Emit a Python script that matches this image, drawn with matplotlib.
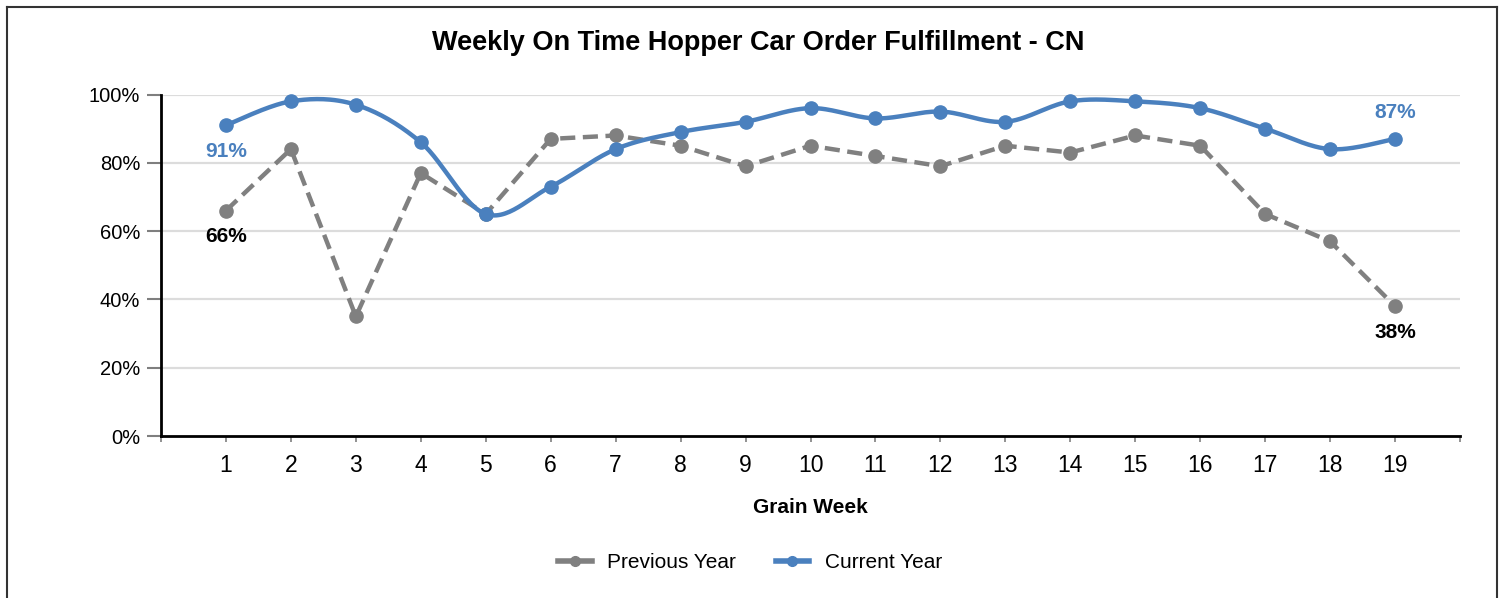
import numpy as np
import matplotlib
matplotlib.use("Agg")
import matplotlib.pyplot as plt
from matplotlib.lines import Line2D

weeks = list(range(1, 20))
previous_year = [66, 84, 35, 77, 65, 87, 88, 85, 79, 85, 82, 79, 85, 83, 88, 85, 65, 57, 38]
current_year = [91, 98, 97, 86, 65, 73, 84, 89, 92, 96, 93, 95, 92, 98, 98, 96, 90, 84, 87]
y_ticks = [0, 20, 40, 60, 80, 100]
y_tick_labels = ["0%", "20%", "40%", "60%", "80%", "100%"]

title = "Weekly On Time Hopper Car Order Fulfillment - CN"
x_label = "Grain Week"

BLUE = "#4a80be"
GRAY = "#808080"

plt.rcParams['font.family'] = ['Liberation Sans', 'DejaVu Sans']


def catmull_rom(x, y, n=30, tension=0.5):
    x = np.asarray(x, float)
    y = np.asarray(y, float)
    m = len(x)
    tx = np.zeros(m)
    ty = np.zeros(m)
    for i in range(m):
        i0 = max(i - 1, 0)
        i1 = min(i + 1, m - 1)
        tx[i] = tension * (x[i1] - x[i0])
        ty[i] = tension * (y[i1] - y[i0])
    xs, ys = [], []
    for i in range(m - 1):
        t = np.linspace(0, 1, n, endpoint=(i == m - 2))
        h00 = 2 * t**3 - 3 * t**2 + 1
        h10 = t**3 - 2 * t**2 + t
        h01 = -2 * t**3 + 3 * t**2
        h11 = t**3 - t**2
        xs.append(h00 * x[i] + h10 * tx[i] + h01 * x[i + 1] + h11 * tx[i + 1])
        ys.append(h00 * y[i] + h10 * ty[i] + h01 * y[i + 1] + h11 * ty[i + 1])
    return np.concatenate(xs), np.concatenate(ys)


fig = plt.figure(figsize=(15.05, 5.98), dpi=100)
ax = fig.add_axes([161 / 1505, 1 - 436 / 598, (1460 - 161) / 1505, (436 - 94.5) / 598])

ax.set_xlim(0, 20)
ax.set_ylim(0, 100)

for yt in y_ticks[1:]:
    ax.axhline(yt, color="#dcdcdc", lw=1.6, zorder=1)

# Previous year (dashed, straight)
ax.plot(weeks, previous_year, color=GRAY, lw=3.2, ls=(0, (3.4, 1.7)),
        marker="o", ms=9.5, zorder=3, clip_on=False)

# Current year (smoothed)
sx, sy = catmull_rom(weeks, current_year)
ax.plot(sx, sy, color=BLUE, lw=3.2, zorder=4, clip_on=False)
ax.plot(weeks, current_year, ls="none", marker="o", ms=9.5, color=BLUE, zorder=5, clip_on=False)

# Data labels
lab_kw = dict(fontsize=15, fontweight="bold", ha="center", va="center", zorder=6)
ax.annotate(f"{current_year[0]}%", (weeks[0], current_year[0]), xytext=(0, -19),
            textcoords="offset points", color=BLUE, **lab_kw)
ax.annotate(f"{previous_year[0]}%", (weeks[0], previous_year[0]), xytext=(0, -19),
            textcoords="offset points", color="black", **lab_kw)
ax.annotate(f"{current_year[-1]}%", (weeks[-1], current_year[-1]), xytext=(0, 19),
            textcoords="offset points", color=BLUE, **lab_kw)
ax.annotate(f"{previous_year[-1]}%", (weeks[-1], previous_year[-1]), xytext=(0, -19),
            textcoords="offset points", color="black", **lab_kw)

# Axes styling
for s in ["top", "right"]:
    ax.spines[s].set_visible(False)
for s in ["left", "bottom"]:
    ax.spines[s].set_linewidth(2)
    ax.spines[s].set_color("black")

ax.set_yticks(y_ticks)
ax.set_yticklabels(y_tick_labels)
ax.tick_params(axis="y", length=10, width=1.5, color="#7f7f7f", labelsize=14.5, pad=5)

ax.set_xticks(range(0, 21))
ax.set_xticklabels([""] + [str(w) for w in weeks] + [""])
ax.tick_params(axis="x", length=4, width=1.2, color="#7f7f7f", labelsize=16.5, pad=9)

ax.set_xlabel(x_label, fontsize=15, fontweight="bold", labelpad=15)

fig.text(758 / 1505, 1 - 43 / 598, title, fontsize=19.5, fontweight="bold",
         ha="center", va="center")

handles = [
    Line2D([], [], color=GRAY, lw=4, marker="o", ms=7),
    Line2D([], [], color=BLUE, lw=4, marker="o", ms=7),
]
fig.legend(handles, ["Previous Year", "Current Year"], loc="center",
           bbox_to_anchor=(750 / 1505, 1 - 563 / 598), ncol=2, frameon=False,
           fontsize=15, handlelength=1.6, columnspacing=1.9, handletextpad=0.75)

# Outer frame
fc = "#333333"
fig.add_artist(Line2D([6.5 / 1505, 6.5 / 1505], [0, 1 - 7 / 598], color=fc, lw=1.5, transform=fig.transFigure))
fig.add_artist(Line2D([6.5 / 1505, 1497 / 1505], [1 - 7 / 598, 1 - 7 / 598], color=fc, lw=1.5, transform=fig.transFigure))
fig.add_artist(Line2D([1497 / 1505, 1497 / 1505], [0, 1 - 7 / 598], color=fc, lw=1.5, transform=fig.transFigure))

fig.savefig("out.png", dpi=100)
